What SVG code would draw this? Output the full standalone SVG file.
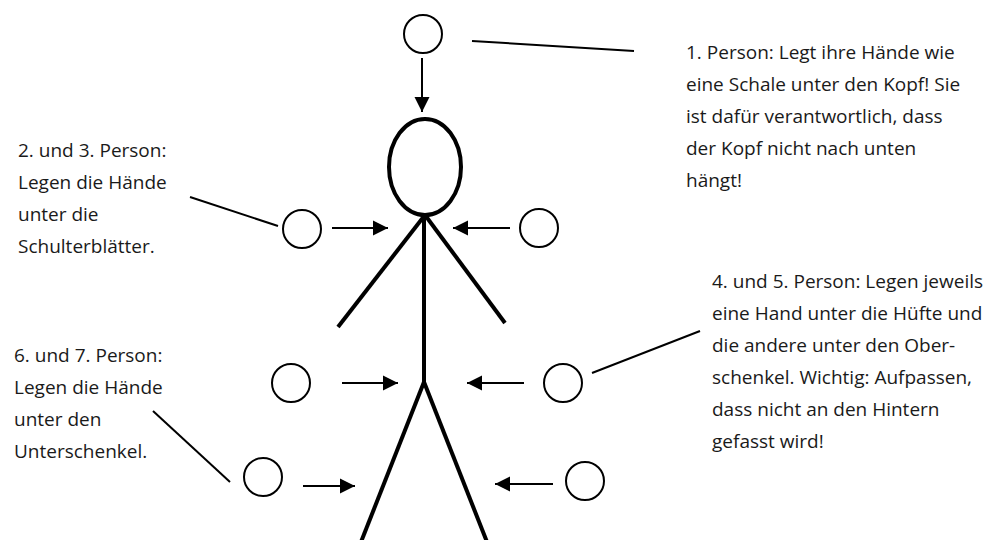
<svg xmlns="http://www.w3.org/2000/svg" width="994" height="540" viewBox="0 0 994 540">
  <style>
    .helper { fill: #fff; stroke: #000; stroke-width: 2; }
    .figure { fill: none; stroke: #000; stroke-width: 4; stroke-linecap: butt; }
    .lead { stroke: #000; stroke-width: 2; fill: none; }
    .arrow { stroke: #000; stroke-width: 2; fill: none; marker-end: url(#head); }
    .label { font-family: "Open Sans", "Liberation Sans", sans-serif; font-size: 19px; fill: #1a1a1a; }
  </style>
  <defs>
    <marker id="head" markerUnits="userSpaceOnUse" markerWidth="16" markerHeight="16" viewBox="0 0 16 16" refX="15" refY="8" orient="auto">
      <path d="M0,0.5 L15,8 L0,15.5 Z" fill="#000"/>
    </marker>
  </defs>

  <rect width="994" height="540" fill="#fff"/>

  <!-- stick figure lying on its back -->
  <g id="figure">
    <ellipse class="figure" cx="425" cy="167" rx="36" ry="48"/>
    <line class="figure" x1="425" y1="215" x2="338" y2="327"/>
    <line class="figure" x1="425" y1="215" x2="505" y2="323"/>
    <line class="figure" x1="424" y1="215" x2="424" y2="382"/>
    <line class="figure" x1="424" y1="382" x2="361" y2="542"/>
    <line class="figure" x1="424" y1="382" x2="487" y2="542"/>
  </g>

  <!-- helpers -->
  <g id="p1"><circle class="helper" cx="423" cy="34" r="19"/></g>
  <g id="p2"><circle class="helper" cx="302" cy="229" r="19"/></g>
  <g id="p3"><circle class="helper" cx="539" cy="228" r="19"/></g>
  <g id="p4"><circle class="helper" cx="291" cy="383" r="19"/></g>
  <g id="p5"><circle class="helper" cx="563" cy="383" r="19"/></g>
  <g id="p6"><circle class="helper" cx="263" cy="477" r="19"/></g>
  <g id="p7"><circle class="helper" cx="585" cy="481" r="19"/></g>

  <!-- arrows and leader lines -->
  <g id="connectors">
    <line class="arrow" x1="422" y1="58" x2="422" y2="112"/>
    <line class="arrow" x1="332" y1="228" x2="388" y2="228"/>
    <line class="arrow" x1="510" y1="228" x2="453" y2="228"/>
    <line class="arrow" x1="342" y1="383" x2="398" y2="383"/>
    <line class="arrow" x1="524" y1="383" x2="467" y2="383"/>
    <line class="arrow" x1="303" y1="486" x2="355" y2="486"/>
    <line class="arrow" x1="553" y1="484" x2="495" y2="484"/>

    <line class="lead" x1="472" y1="41" x2="634" y2="51"/>
    <line class="lead" x1="190" y1="197" x2="278" y2="226"/>
    <line class="lead" x1="592" y1="373" x2="700" y2="331"/>
    <line class="lead" x1="153" y1="411" x2="230" y2="482"/>
  </g>

  <!-- captions -->
  <g id="text-p1">
    <text class="label" x="686" y="59">1. Person: Legt ihre Hände wie</text>
    <text class="label" x="686" y="91">eine Schale unter den Kopf! Sie</text>
    <text class="label" x="686" y="123">ist dafür verantwortlich, dass</text>
    <text class="label" x="686" y="155">der Kopf nicht nach unten</text>
    <text class="label" x="686" y="187">hängt!</text>
  </g>
  <g id="text-p2-3">
    <text class="label" x="18" y="157">2. und 3. Person:</text>
    <text class="label" x="18" y="189">Legen die Hände</text>
    <text class="label" x="18" y="221">unter die</text>
    <text class="label" x="18" y="253">Schulterblätter.</text>
  </g>
  <g id="text-p4-5">
    <text class="label" x="712" y="288">4. und 5. Person: Legen jeweils</text>
    <text class="label" x="712" y="320">eine Hand unter die Hüfte und</text>
    <text class="label" x="712" y="352">die andere unter den Ober-</text>
    <text class="label" x="712" y="384">schenkel. Wichtig: Aufpassen,</text>
    <text class="label" x="712" y="416">dass nicht an den Hintern</text>
    <text class="label" x="712" y="448">gefasst wird!</text>
  </g>
  <g id="text-p6-7">
    <text class="label" x="14" y="362">6. und 7. Person:</text>
    <text class="label" x="14" y="394">Legen die Hände</text>
    <text class="label" x="14" y="426">unter den</text>
    <text class="label" x="14" y="458">Unterschenkel.</text>
  </g>
</svg>
